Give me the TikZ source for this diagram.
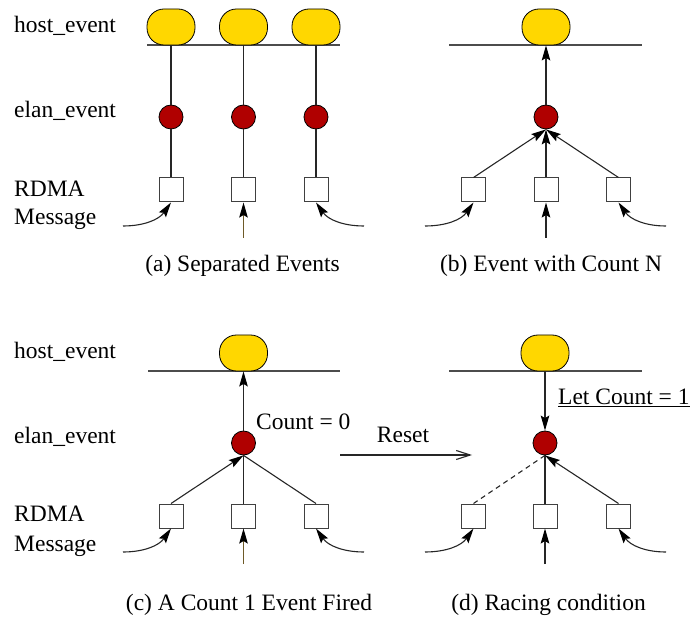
\documentclass[tikz,border=0pt]{standalone}
\usepackage{fontspec}
\setmainfont{Liberation Serif}
\usetikzlibrary{arrows.meta,positioning}
\definecolor{hostgold}{HTML}{FFD700}
\definecolor{elanred}{HTML}{B00000}
\definecolor{tailolive}{HTML}{6E5A28}
\tikzset{
  hostev/.style={rectangle, rounded corners=17pt, draw=black, fill=hostgold,
                 minimum width=48pt, minimum height=36pt, inner sep=0pt, line width=0.8pt},
  elanev/.style={circle, draw=black, fill=elanred, minimum size=24pt,
                 inner sep=0pt, line width=0.8pt},
  rdmabox/.style={rectangle, draw=black!75, fill=white, minimum size=24pt,
                  inner sep=0pt, line width=1pt},
  evbus/.style={line width=1.1pt, draw=black!70},
  evwire/.style={line width=1.1pt, draw=black!85},
  evarr/.style={evwire, -{Stealth[length=15pt,width=8.5pt,inset=2.5pt,color=black]}},
  olivearr/.style={evarr, draw=tailolive},
  rowlab/.style={anchor=base west, inner sep=0pt},
  caplab/.style={anchor=base, inner sep=0pt}
}
\begin{document}
\begin{tikzpicture}[x=1pt,y=-1pt,font=\fontsize{23.5}{28}\selectfont]
  \useasboundingbox (0,0) rectangle (691,617);

  % row labels
  \node[rowlab] (hostlaba) at (14,33) {host\_event};
  \node[rowlab] (elanlaba) at (14,118) {elan\_event};
  \node[rowlab] (rdmalaba) at (14,197) {RDMA};
  \node[rowlab] (msglaba) at (14,225) {Message};
  \node[rowlab] (hostlabc) at (14,359) {host\_event};
  \node[rowlab] (elanlabc) at (14,443) {elan\_event};
  \node[rowlab] (rdmalabc) at (14,521) {RDMA};
  \node[rowlab] (msglabc) at (14,551) {Message};

  % (a) separated events
  \draw[evbus] (147,45) coordinate (busa1) -- (340,45) coordinate (busa2);
  \node[hostev] (ha1) at (171,27) {};
  \node[hostev] (ha2) at (243.5,27) {};
  \node[hostev] (ha3) at (316,27) {};
  \node[elanev] (ea1) at (171,117) {};
  \node[elanev] (ea2) at (243.5,117) {};
  \node[elanev] (ea3) at (316,117) {};
  \node[rdmabox] (ra1) at (171,190) {};
  \node[rdmabox] (ra2) at (243.5,190) {};
  \node[rdmabox] (ra3) at (316,190) {};
  \draw[evwire] (ha1.south) -- (ea1.north);
  \draw[evwire] (ha2.south) -- (ea2.north);
  \draw[evwire] (ha3.south) -- (ea3.north);
  \draw[evwire] (ea1.south) -- (ra1.north);
  \draw[evwire] (ea2.south) -- (ra2.north);
  \draw[evwire] (ea3.south) -- (ra3.north);
  \coordinate (ma1) at (123,226);
  \coordinate (ma2) at (243.5,238);
  \coordinate (ma3) at (364,226);
  \draw[evarr] (ma1) to[out=0,in=-125] (ra1.south);
  \draw[olivearr] (ma2) -- (ra2.south);
  \draw[evarr] (ma3) to[out=180,in=-55] (ra3.south);
  \node[caplab] (capa) at (242.5,272) {(a) Separated Events};

  % (b) event with count N
  \draw[evbus] (449,45) coordinate (busb1) -- (642,45) coordinate (busb2);
  \node[hostev] (hb) at (546,27) {};
  \node[elanev] (eb) at (546,117) {};
  \node[rdmabox] (rb1) at (473.5,190) {};
  \node[rdmabox] (rb2) at (546,190) {};
  \node[rdmabox] (rb3) at (618.5,190) {};
  \draw[evarr] (eb.north) -- (hb.south);
  \draw[evarr] (rb1.north) -- (eb.south);
  \draw[evarr] (rb2.north) -- (eb.south);
  \draw[evarr] (rb3.north) -- (eb.south);
  \coordinate (mb1) at (425,226);
  \coordinate (mb2) at (546,238);
  \coordinate (mb3) at (666,226);
  \draw[evarr] (mb1) to[out=0,in=-125] (rb1.south);
  \draw[evarr] (mb2) -- (rb2.south);
  \draw[evarr] (mb3) to[out=180,in=-55] (rb3.south);
  \node[caplab] (capb) at (551,272) {(b) Event with Count N};

  % (c) a count 1 event fired
  \draw[evbus] (148,371) coordinate (busc1) -- (340,371) coordinate (busc2);
  \node[hostev] (hc) at (243.5,353) {};
  \node[elanev] (ec) at (243.5,443) {};
  \node[rdmabox] (rc1) at (171,516) {};
  \node[rdmabox] (rc2) at (243.5,516) {};
  \node[rdmabox] (rc3) at (316,516) {};
  \draw[evarr] (ec.north) -- (hc.south);
  \draw[evarr] (rc1.north) -- (ec.south);
  \draw[evwire] (rc2.north) -- (ec.south);
  \draw[evwire] (rc3.north) -- (ec.south);
  \coordinate (mc1) at (123,552);
  \coordinate (mc2) at (243.5,564);
  \coordinate (mc3) at (364,552);
  \draw[evarr] (mc1) to[out=0,in=-125] (rc1.south);
  \draw[olivearr] (mc2) -- (rc2.south);
  \draw[evarr] (mc3) to[out=180,in=-55] (rc3.south);
  \node[rowlab] (countzero) at (256,430) {Count = 0};
  \node[caplab] (capc) at (249,610) {(c) A Count 1 Event Fired};

  % reset
  \coordinate (resetfrom) at (340,455);
  \coordinate (resetto) at (472,455);
  \draw[evwire, -{Straight Barb[length=14pt,width=9pt]}] (resetfrom) -- (resetto)
    node[midway, above=12pt, inner sep=0pt, xshift=-3pt] (resetlab) {Reset};

  % (d) racing condition
  \draw[evbus] (449,371) coordinate (busd1) -- (642,371) coordinate (busd2);
  \node[hostev] (hd) at (545,353) {};
  \node[elanev] (ed) at (545,443) {};
  \node[rdmabox] (rd1) at (473.5,516) {};
  \node[rdmabox] (rd2) at (545,516) {};
  \node[rdmabox] (rd3) at (618.5,516) {};
  \draw[evarr] (hd.south) -- (ed.north);
  \draw[evwire, dash pattern=on 5pt off 4pt] (rd1.north) -- (ed.south);
  \draw[evwire] (rd2.north) -- (ed.south);
  \draw[evarr] (rd3.north) -- (ed.south);
  \coordinate (md1) at (425,552);
  \coordinate (md2) at (545,564);
  \coordinate (md3) at (666,552);
  \draw[evarr] (md1) to[out=0,in=-125] (rd1.south);
  \draw[evarr] (md2) -- (rd2.south);
  \draw[evarr] (md3) to[out=180,in=-55] (rd3.south);
  \node[rowlab] (letcount) at (558,405) {\underline{Let Count = 1}};
  \node[caplab] (capd) at (548.5,610) {(d) Racing condition};
\end{tikzpicture}
\end{document}
